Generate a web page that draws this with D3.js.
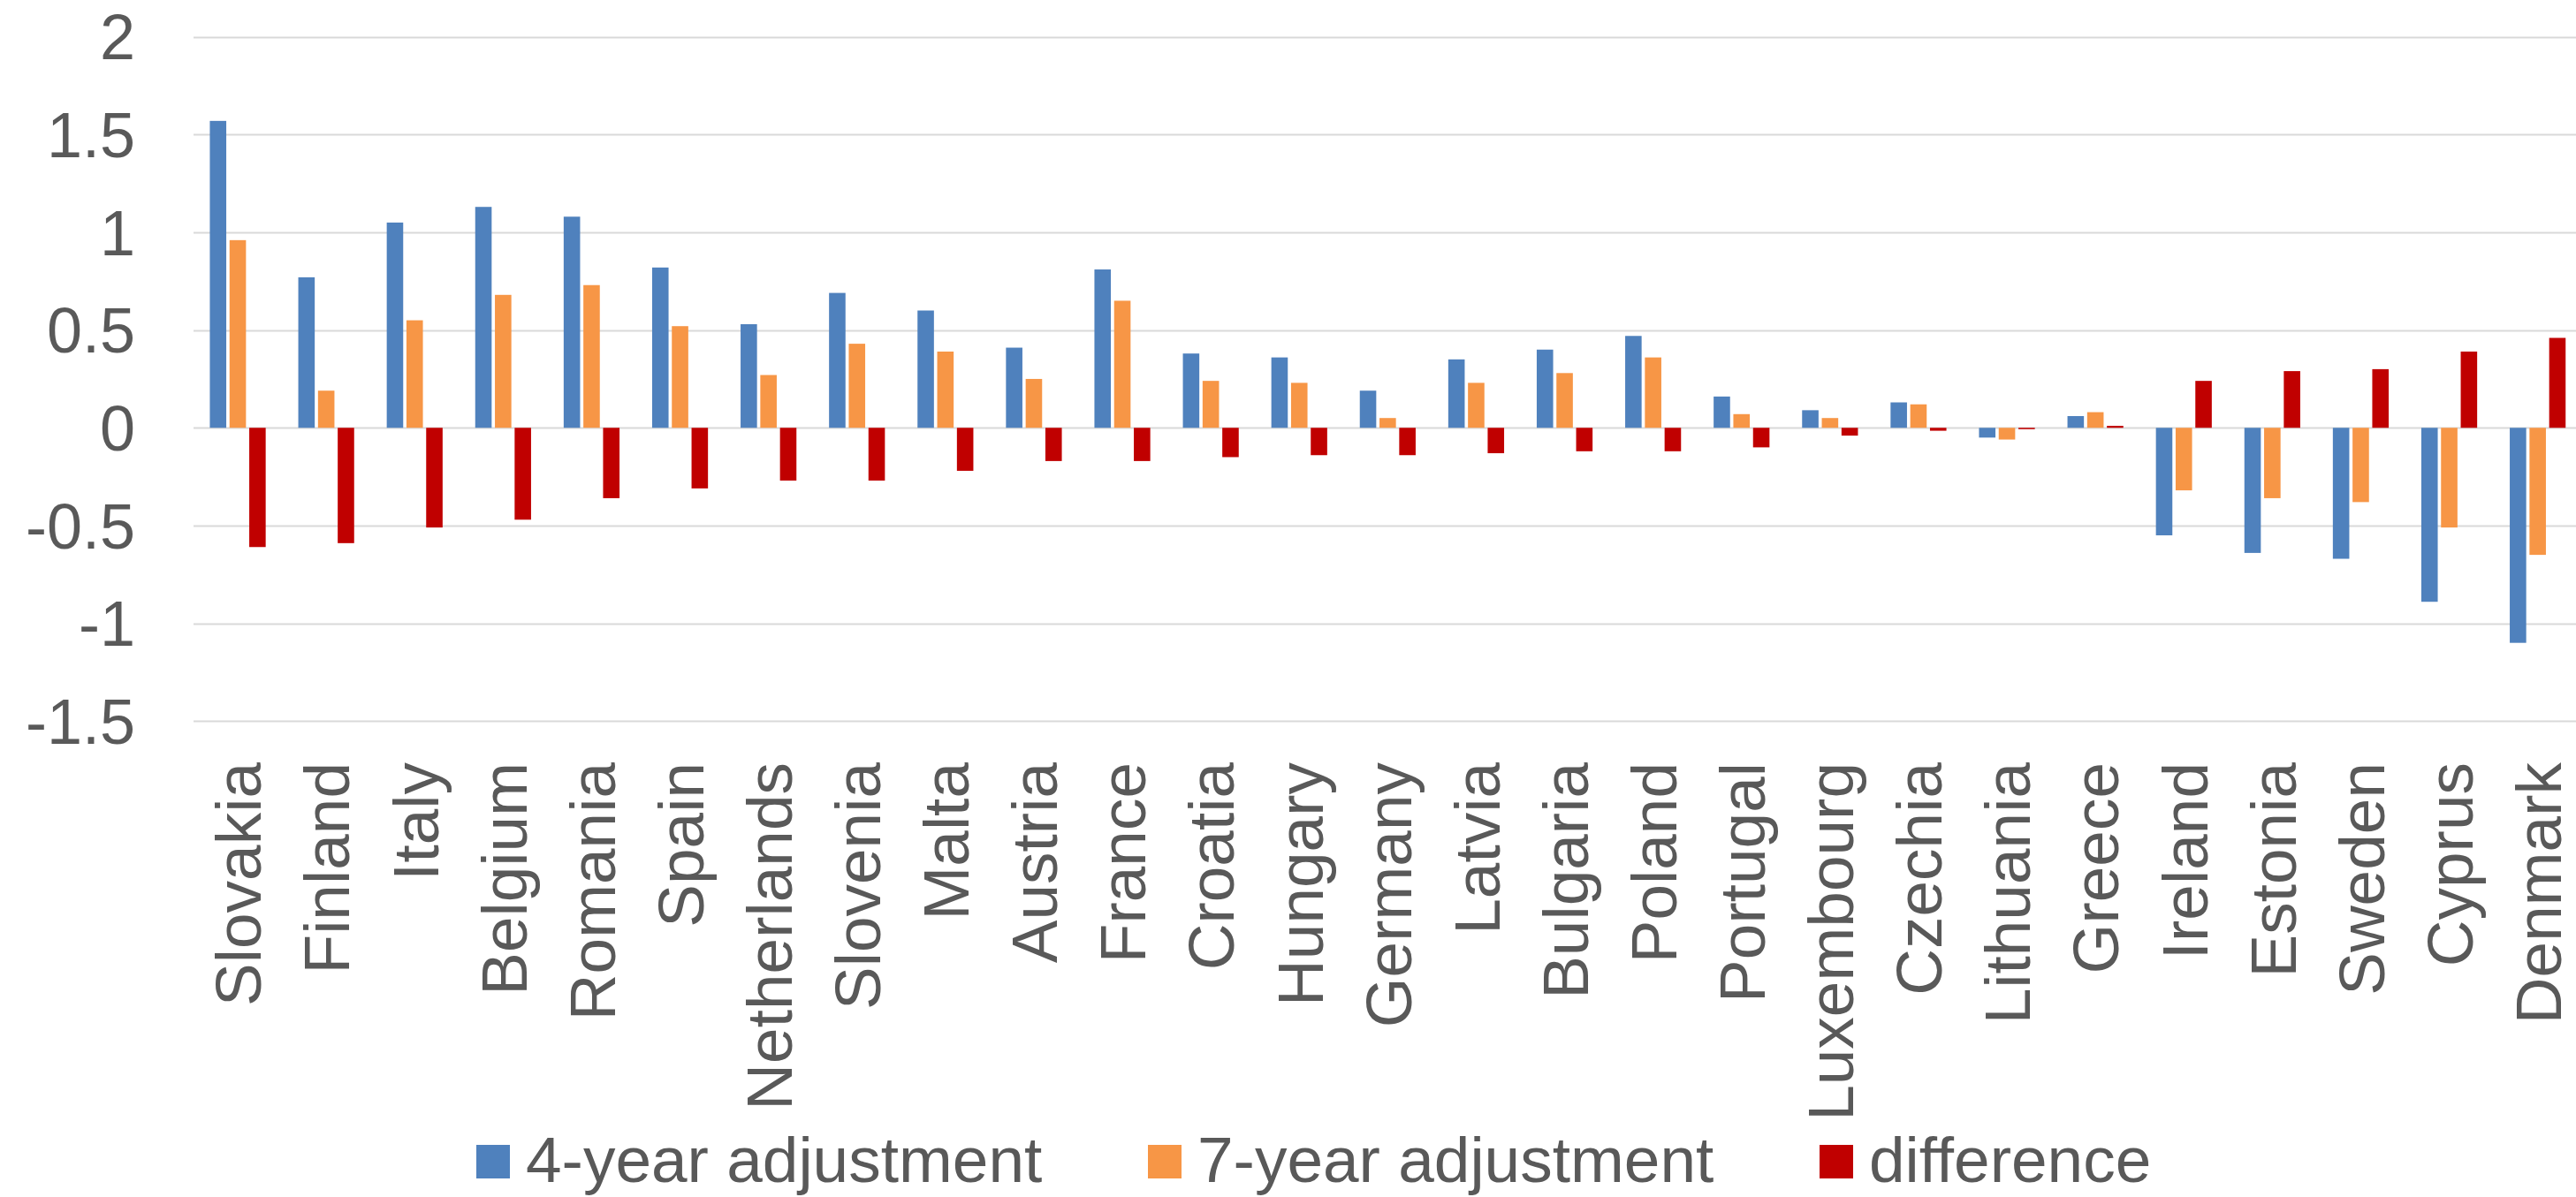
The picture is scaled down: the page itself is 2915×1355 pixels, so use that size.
<!DOCTYPE html>
<html>
<head>
<meta charset="utf-8">
<script src="https://cdn.jsdelivr.net/npm/d3@7"></script>
<style>
  html, body { margin: 0; padding: 0; background: #ffffff; }
  svg { display: block; }
  text { font-family: "Liberation Sans", Arial, Helvetica, sans-serif; fill: #595959; }
</style>
</head>
<body>
<svg id="chart" width="2915" height="1355"></svg>
<script>
// Countries, ordered by the size of the difference
const countries = ["Slovakia", "Finland", "Italy", "Belgium", "Romania", "Spain", "Netherlands",
  "Slovenia", "Malta", "Austria", "France", "Croatia", "Hungary", "Germany", "Latvia",
  "Bulgaria", "Poland", "Portugal", "Luxembourg", "Czechia", "Lithuania", "Greece",
  "Ireland", "Estonia", "Sweden", "Cyprus", "Denmark"];

const adjustment4 = [1.57, 0.77, 1.05, 1.13, 1.08, 0.82, 0.53, 0.69, 0.60, 0.41, 0.81, 0.38, 0.36,
  0.19, 0.35, 0.40, 0.47, 0.16, 0.09, 0.13, -0.05, 0.06, -0.55, -0.64, -0.67, -0.89, -1.10];

const adjustment7 = [0.96, 0.19, 0.55, 0.68, 0.73, 0.52, 0.27, 0.43, 0.39, 0.25, 0.65, 0.24, 0.23,
  0.05, 0.23, 0.28, 0.36, 0.07, 0.05, 0.12, -0.06, 0.08, -0.32, -0.36, -0.38, -0.51, -0.65];

const difference = [-0.61, -0.59, -0.51, -0.47, -0.36, -0.31, -0.27, -0.27, -0.22, -0.17, -0.17,
  -0.15, -0.14, -0.14, -0.13, -0.12, -0.12, -0.10, -0.04, -0.015, -0.007, 0.01,
  0.24, 0.29, 0.30, 0.39, 0.46];

const seriesNames = ["4-year adjustment", "7-year adjustment", "difference"];
const seriesColors = ["#4F81BD", "#F79646", "#C00000"];

const yTickValues = [2, 1.5, 1, 0.5, 0, -0.5, -1, -1.5];
const yTickLabels = ["2", "1.5", "1", "0.5", "0", "-0.5", "-1", "-1.5"];

const seriesValues = [adjustment4, adjustment7, difference];

const svg = d3.select("#chart");

const plotLeft = 219, plotRight = 2915;
const step = 100.1;

const x0 = d3.scaleBand()
  .domain(countries)
  .range([plotLeft, plotLeft + step * countries.length])
  .paddingInner(0)
  .paddingOuter(0);

const x1 = d3.scaleBand()
  .domain(seriesNames)
  .range([-31.6, 31.6])
  .paddingInner(0.166)
  .paddingOuter(0);

const y = d3.scaleLinear().domain([-1.5, 2]).range([816.2, 41.7]);

// Horizontal gridlines
svg.append("g")
  .selectAll("line")
  .data(yTickValues)
  .join("line")
  .attr("x1", plotLeft)
  .attr("x2", plotRight)
  .attr("y1", d => Math.round(y(d)) + 0.5)
  .attr("y2", d => Math.round(y(d)) + 0.5)
  .attr("stroke", "#D9D9D9")
  .attr("stroke-width", 2);

// Value axis labels
const yAxis = d3.axisLeft(y)
  .tickValues(yTickValues)
  .tickFormat((d, i) => yTickLabels[i])
  .tickSize(0)
  .tickPadding(0);

const gy = svg.append("g")
  .attr("transform", "translate(153,0)")
  .call(yAxis);
gy.select(".domain").remove();
gy.selectAll("text")
  .attr("font-size", 72)
  .attr("fill", "#595959")
  .attr("dy", "0.35em")
  .style("font-family", "'Liberation Sans', Arial, sans-serif");

// Bars
const rows = countries.map((c, i) => ({
  country: c,
  values: seriesNames.map((s, k) => ({ series: s, value: seriesValues[k][i], color: seriesColors[k] }))
}));

const groups = svg.append("g")
  .selectAll("g")
  .data(rows)
  .join("g")
  .attr("transform", d => `translate(${x0(d.country) + x0.bandwidth() / 2},0)`);

groups.selectAll("rect")
  .data(d => d.values)
  .join("rect")
  .attr("x", d => x1(d.series))
  .attr("width", x1.bandwidth())
  .attr("y", d => y(Math.max(0, d.value)))
  .attr("height", d => Math.abs(y(d.value) - y(0)))
  .attr("fill", d => d.color);

// Category labels, rotated
const xAxis = d3.axisBottom(x0).tickSize(0).tickPadding(0);
const gx = svg.append("g")
  .attr("transform", "translate(0,863)")
  .call(xAxis);
gx.select(".domain").remove();
gx.selectAll("text")
  .attr("font-size", 73)
  .attr("fill", "#595959")
  .attr("text-anchor", "end")
  .attr("transform", "rotate(-90)")
  .attr("x", 0)
  .attr("y", 0)
  .attr("dy", "0.36em")
  .style("font-family", "'Liberation Sans', Arial, sans-serif");

// Legend
const legendX = 539, legendSpacing = 760, swatch = 38;
const legend = svg.append("g")
  .selectAll("g")
  .data(seriesNames)
  .join("g")
  .attr("transform", (d, i) => `translate(${legendX + i * legendSpacing},1296)`);

legend.append("rect")
  .attr("width", swatch)
  .attr("height", swatch)
  .attr("fill", (d, i) => seriesColors[i]);

legend.append("text")
  .attr("x", swatch + 18)
  .attr("y", 42)
  .attr("font-size", 73)
  .text(d => d);
</script>
</body>
</html>
